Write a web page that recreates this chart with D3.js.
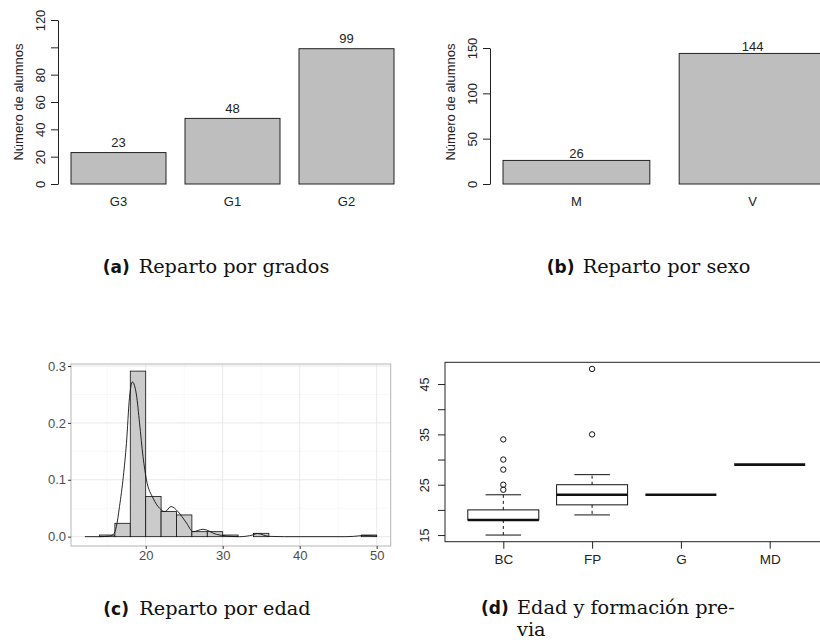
<!DOCTYPE html>
<html>
<head>
<meta charset="utf-8">
<script src="https://cdn.jsdelivr.net/npm/d3@7"></script>
<style>
  body { margin: 0; background: #fff; }
  svg { display: block; font-family: "Liberation Sans", Arial, sans-serif; }
</style>
</head>
<body>
<div id="app"></div>
<script>
// (a) reparto por grados
const gradoCats = ['G3', 'G1', 'G2'];
const gradoCounts = [23, 48, 99];
const gradoTicks = [0, 20, 40, 60, 80, 100, 120];
const gradoTickLabels = ['0', '20', '40', '60', '80', '', '120'];

// (b) reparto por sexo
const sexoCats = ['M', 'V'];
const sexoCounts = [26, 144];
const sexoTicks = [0, 50, 100, 150];

// (c) reparto por edad: bin starts (width 2) and density heights
const edadBinStart = [12, 14, 16, 18, 20, 22, 24, 26, 28, 30, 32, 34, 36, 38, 40, 42, 44, 46, 48];
const edadDensity = [0, 0.0029, 0.0235, 0.291, 0.0706, 0.0441, 0.0382, 0.0088, 0.0088, 0.0029, 0,
  0.0059, 0, 0, 0, 0, 0, 0, 0.0029];
const kdeX = [12.1, 14, 15.3, 15.8, 16.2, 16.6, 17.1, 17.5, 17.9, 18.27, 18.8, 19.2, 19.65, 20.1, 20.95,
  21.8, 22.5, 23.3, 24.2, 25.3, 26.15, 27.45, 29.2, 30.5, 32.2, 33.9, 34.5, 36, 38, 46, 47, 48.3, 50];
const kdeY = [0, 0, 0.001, 0.004, 0.018, 0.053, 0.106, 0.164, 0.245, 0.272, 0.249, 0.2, 0.141, 0.1, 0.068,
  0.05, 0.044, 0.053, 0.044, 0.024, 0.0088, 0.013, 0.004, 0.0012, 0, 0.003, 0.0055, 0.0005, 0, 0, 0.0005, 0.002, 0.001];
const edadXTicks = [20, 30, 40, 50];
const edadXMinor = [15, 25, 35, 45];
const edadYTicks = [0, 0.1, 0.2, 0.3];
const edadYMinor = [0.05, 0.15, 0.25];

// (d) edad y formación previa
const formCats = ['BC', 'FP', 'G', 'MD'];
const boxMin = [15, 19, 23, 29];
const boxQ1 = [18, 21, 23, 29];
const boxMedian = [18, 23, 23, 29];
const boxQ3 = [20, 25, 23, 29];
const boxMax = [23, 27, 23, 29];
const boxOutliers = [[24, 25, 28, 30, 34], [35, 48], [], []];
const formTicks = [15, 20, 25, 30, 35, 40, 45];
const formTickLabels = ['15', '', '25', '', '35', '', '45'];

const SANS = '"Liberation Sans", Arial, sans-serif';
const svg = d3.select('#app').append('svg').attr('width', 820).attr('height', 640);

// ---------- bar panels (base R style) ----------
function barPanel(cats, vals, ticks, labels, yDom, yRange, xRange, axisX, labelGap) {
  const g = svg.append('g');
  const y = d3.scaleLinear().domain(yDom).range(yRange);
  const x = d3.scaleBand().domain(cats).range(xRange).paddingInner(1 / 6);

  g.selectAll('rect').data(vals).join('rect')
    .attr('x', (d, i) => x(cats[i]))
    .attr('y', (d) => y(d))
    .attr('width', x.bandwidth())
    .attr('height', (d) => y(0) - y(d))
    .attr('fill', '#bebebe')
    .attr('stroke', '#222')
    .attr('stroke-width', 1);

  g.selectAll('text.val').data(vals).join('text')
    .attr('class', 'val')
    .attr('x', (d, i) => x(cats[i]) + x.bandwidth() / 2)
    .attr('y', (d) => y(d) - labelGap)
    .attr('text-anchor', 'middle')
    .attr('font-size', 13)
    .attr('fill', '#222')
    .text((d) => d);

  g.selectAll('text.cat').data(cats).join('text')
    .attr('class', 'cat')
    .attr('x', (d) => x(d) + x.bandwidth() / 2)
    .attr('y', 205.5)
    .attr('text-anchor', 'middle')
    .attr('font-size', 13)
    .attr('fill', '#222')
    .text((d) => d);

  const ax = g.append('g')
    .attr('transform', `translate(${axisX},0)`)
    .call(d3.axisLeft(y).tickValues(ticks).tickSize(7).tickSizeOuter(0)
      .tickFormat((d, i) => labels[i]));
  ax.select('.domain').attr('stroke', '#222');
  ax.selectAll('.tick line').attr('stroke', '#222');
  ax.selectAll('.tick text')
    .attr('x', null).attr('dy', '0.35em')
    .attr('transform', 'translate(-18,0) rotate(-90)')
    .attr('text-anchor', 'middle')
    .attr('font-size', 13)
    .attr('font-family', SANS)
    .attr('fill', '#222');

  g.append('text')
    .attr('transform', `translate(${axisX - 40},102) rotate(-90)`)
    .attr('dy', '0.35em')
    .attr('text-anchor', 'middle')
    .attr('font-size', 13)
    .attr('fill', '#222')
    .text('Número de alumnos');
}

barPanel(gradoCats, gradoCounts, gradoTicks, gradoTickLabels, [0, 120], [184, 20], [71, 394], 58, 5.5);
barPanel(sexoCats, sexoCounts, sexoTicks, sexoTicks.map(String), [0, 150], [184, 48], [503, 826], 490, 2);

// ---------- (c) histogram + density (ggplot theme_bw style) ----------
(() => {
  const g = svg.append('g');
  const x = d3.scaleLinear().domain([10.3, 51.82]).range([71, 390.7]);
  const y = d3.scaleLinear().domain([-0.0164, 0.3035]).range([546, 364]);

  g.selectAll('line.vmin').data(edadXMinor).join('line')
    .attr('x1', (d) => x(d)).attr('x2', (d) => x(d))
    .attr('y1', 364).attr('y2', 546)
    .attr('stroke', '#f3f3f3').attr('stroke-width', 0.6);
  g.selectAll('line.hmin').data(edadYMinor).join('line')
    .attr('y1', (d) => y(d)).attr('y2', (d) => y(d))
    .attr('x1', 71).attr('x2', 390.7)
    .attr('stroke', '#f3f3f3').attr('stroke-width', 0.6);
  g.selectAll('line.vmaj').data(edadXTicks).join('line')
    .attr('x1', (d) => x(d)).attr('x2', (d) => x(d))
    .attr('y1', 364).attr('y2', 546)
    .attr('stroke', '#e8e8e8').attr('stroke-width', 1);
  g.selectAll('line.hmaj').data(edadYTicks).join('line')
    .attr('y1', (d) => y(d)).attr('y2', (d) => y(d))
    .attr('x1', 71).attr('x2', 390.7)
    .attr('stroke', '#e8e8e8').attr('stroke-width', 1);

  g.selectAll('rect.bin').data(edadDensity).join('rect')
    .attr('class', 'bin')
    .attr('x', (d, i) => x(edadBinStart[i]))
    .attr('y', (d) => y(d))
    .attr('width', (d, i) => x(edadBinStart[i] + 2) - x(edadBinStart[i]))
    .attr('height', (d) => y(0) - y(d))
    .attr('fill', '#cbcbcb')
    .attr('stroke', '#111')
    .attr('stroke-width', 0.8);

  const line = d3.line()
    .x((d, i) => x(kdeX[i]))
    .y((d) => y(d))
    .curve(d3.curveMonotoneX);
  g.append('path')
    .attr('d', line(kdeY))
    .attr('fill', 'none')
    .attr('stroke', '#111')
    .attr('stroke-width', 0.9);

  g.append('rect')
    .attr('x', 71).attr('y', 364).attr('width', 319.7).attr('height', 182)
    .attr('fill', 'none').attr('stroke', '#b5b5b5').attr('stroke-width', 1);

  const ay = g.append('g').attr('transform', 'translate(71,0)')
    .call(d3.axisLeft(y).tickValues(edadYTicks).tickSize(3).tickSizeOuter(0).tickFormat(d3.format('.1f')));
  const axb = g.append('g').attr('transform', 'translate(0,546)')
    .call(d3.axisBottom(x).tickValues(edadXTicks).tickSize(3).tickSizeOuter(0));
  [ay, axb].forEach((a) => {
    a.select('.domain').remove();
    a.selectAll('.tick line').attr('stroke', '#333');
    a.selectAll('.tick text').attr('font-size', 13).attr('fill', '#4d4d4d')
      .attr('font-family', SANS);
  });
  ay.selectAll('.tick text').attr('x', -5);
  axb.selectAll('.tick text').attr('y', 5);
})();

// ---------- (d) boxplot (base R style) ----------
(() => {
  const g = svg.append('g');
  const x = d3.scalePoint().domain(formCats).range([503.3, 769.7]);
  const y = d3.scaleLinear().domain([13.68, 49.32]).range([541.7, 362.3]);
  const hw = 35.5;

  formCats.forEach((c, i) => {
    const cx = x(c);
    // whiskers
    g.append('line').attr('x1', cx).attr('x2', cx).attr('y1', y(boxQ3[i])).attr('y2', y(boxMax[i]))
      .attr('stroke', '#111').attr('stroke-dasharray', '3,3');
    g.append('line').attr('x1', cx).attr('x2', cx).attr('y1', y(boxQ1[i])).attr('y2', y(boxMin[i]))
      .attr('stroke', '#111').attr('stroke-dasharray', '3,3');
    [boxMax[i], boxMin[i]].forEach((v) => {
      g.append('line').attr('x1', cx - hw / 2).attr('x2', cx + hw / 2).attr('y1', y(v)).attr('y2', y(v))
        .attr('stroke', '#111');
    });
    g.append('rect').attr('x', cx - hw).attr('width', hw * 2)
      .attr('y', y(boxQ3[i])).attr('height', y(boxQ1[i]) - y(boxQ3[i]))
      .attr('fill', 'none').attr('stroke', '#111');
    g.append('line').attr('x1', cx - hw).attr('x2', cx + hw)
      .attr('y1', y(boxMedian[i])).attr('y2', y(boxMedian[i]))
      .attr('stroke', '#111').attr('stroke-width', 2.6);
    g.selectAll(null).data(boxOutliers[i]).join('circle')
      .attr('cx', cx).attr('cy', (d) => y(d)).attr('r', 2.7)
      .attr('fill', 'none').attr('stroke', '#111');
  });

  g.append('rect').attr('x', 445).attr('y', 362.3).attr('width', 383).attr('height', 179.4)
    .attr('fill', 'none').attr('stroke', '#222');

  const ay = g.append('g').attr('transform', 'translate(445,0)')
    .call(d3.axisLeft(y).tickValues(formTicks).tickSize(7).tickSizeOuter(0)
      .tickFormat((d, i) => formTickLabels[i]));
  ay.select('.domain').remove();
  ay.selectAll('.tick line').attr('stroke', '#222');
  ay.selectAll('.tick text')
    .attr('x', null).attr('dy', '0.35em')
    .attr('transform', 'translate(-20,0) rotate(-90)')
    .attr('text-anchor', 'middle')
    .attr('font-size', 12.5)
    .attr('font-family', SANS)
    .attr('fill', '#222');

  const axb = g.append('g').attr('transform', 'translate(0,541.7)')
    .call(d3.axisBottom(x).tickSize(7).tickSizeOuter(0));
  axb.select('.domain').remove();
  axb.selectAll('.tick line').attr('stroke', '#222');
  axb.selectAll('.tick text').attr('y', 13).attr('font-size', 13.5).attr('fill', '#222')
    .attr('font-family', SANS);
})();

// ---------- captions ----------
const captions = [
  { tag: '(a)', lines: ['Reparto por grados'], x: 102.7, y: 273 },
  { tag: '(b)', lines: ['Reparto por sexo'], x: 546.7, y: 273 },
  { tag: '(c)', lines: ['Reparto por edad'], x: 103.3, y: 615 },
  { tag: '(d)', lines: ['Edad y formación pre-', 'via'], x: 481, y: 614 },
];
captions.forEach((c) => {
  svg.append('text')
    .attr('x', c.x).attr('y', c.y)
    .style('font-family', '"DejaVu Sans", sans-serif')
    .style('font-weight', 'bold')
    .style('font-size', '17px')
    .attr('fill', '#111')
    .text(c.tag);
  c.lines.forEach((l, j) => {
    svg.append('text')
      .attr('x', c.x + 36).attr('y', c.y + j * 22)
      .style('font-family', '"DejaVu Serif", "Liberation Serif", serif')
      .style('font-size', '19.3px')
      .attr('fill', '#111')
      .text(l);
  });
});
</script>
</body>
</html>
